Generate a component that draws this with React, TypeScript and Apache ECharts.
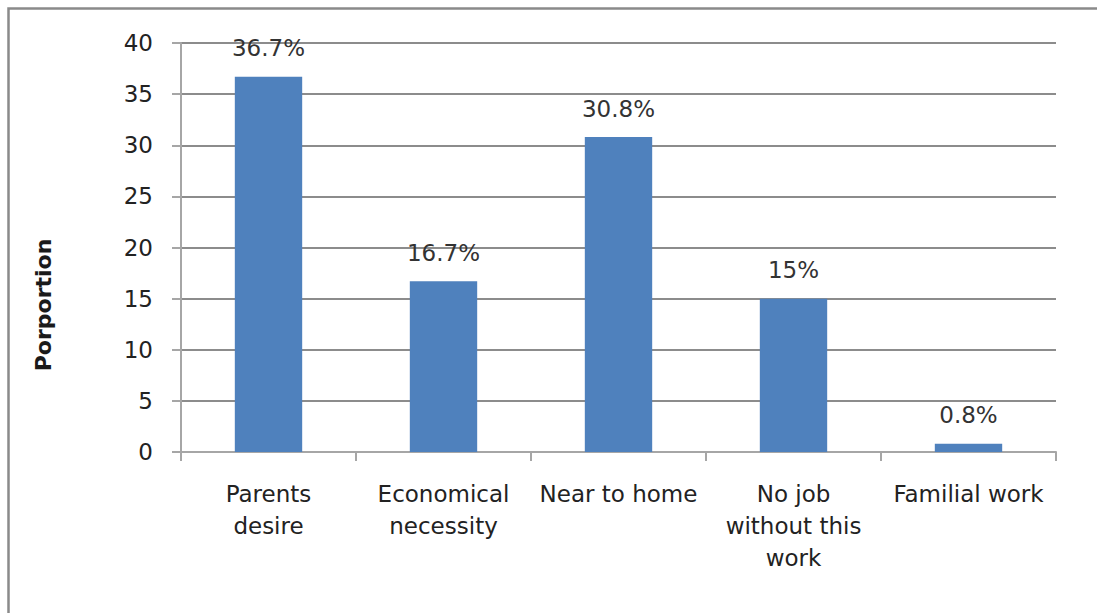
import React, { useEffect, useRef } from "react";
import * as echarts from "echarts";

const categories = [
  "Parents\ndesire",
  "Economical\nnecessity",
  "Near to home",
  "No job\nwithout this\nwork",
  "Familial work",
];
const values = [36.7, 16.7, 30.8, 15, 0.8];
const valueLabels = ["36.7%", "16.7%", "30.8%", "15%", "0.8%"];
const yTicks = [0, 5, 10, 15, 20, 25, 30, 35, 40];
const yAxisTitle = "Porportion";

const FONT = "'DejaVu Sans', 'Open Sans', sans-serif";

export default function App() {
  const ref = useRef<HTMLDivElement>(null);
  useEffect(() => {
    if (!ref.current) return;
    const chart = echarts.init(ref.current, undefined, { renderer: "svg" });
    chart.setOption({
      animation: false,
      backgroundColor: "#ffffff",
      textStyle: { fontFamily: FONT },
      graphic: [
        {
          type: "rect",
          shape: { x: 8.5, y: 8.5, width: 1200, height: 700 },
          style: { fill: "none", stroke: "#8a8a8a", lineWidth: 2.5 },
          silent: true,
        },
        {
          type: "text",
          x: 43,
          y: 305,
          rotation: Math.PI / 2,
          style: {
            text: yAxisTitle,
            fontSize: 22,
            fontWeight: "bold",
            fontFamily: FONT,
            fill: "#1a1a1a",
            align: "center",
            verticalAlign: "middle",
          },
          silent: true,
        },
      ],
      grid: { left: 181, right: 41, top: 43, bottom: 161, containLabel: false },
      xAxis: {
        type: "category",
        data: categories,
        axisLine: { lineStyle: { color: "#a6a6a6", width: 2 } },
        axisTick: { show: true, length: 9, lineStyle: { color: "#a6a6a6", width: 2 } },
        axisLabel: {
          interval: 0,
          margin: 26,
          fontSize: 23,
          lineHeight: 32,
          color: "#222222",
          fontFamily: FONT,
        },
      },
      yAxis: {
        type: "value",
        min: yTicks[0],
        max: yTicks[yTicks.length - 1],
        interval: 5,
        axisLine: { show: true, lineStyle: { color: "#a6a6a6", width: 2 } },
        axisTick: { show: true, length: 9, lineStyle: { color: "#a6a6a6", width: 2 } },
        axisLabel: { margin: 28, fontSize: 23, color: "#222222", fontFamily: FONT },
        splitLine: { show: true, lineStyle: { color: "#8c8c8c", width: 2 } },
      },
      series: [
        {
          type: "bar",
          data: values,
          barWidth: "38.5%",
          itemStyle: { color: "#4f81bd" },
          label: {
            show: true,
            position: "top",
            distance: 17,
            fontSize: 23,
            color: "#333333",
            fontFamily: FONT,
            formatter: (p: any) => valueLabels[p.dataIndex],
          },
        },
      ],
    });
    return () => chart.dispose();
  }, []);
  return (
    <div
      ref={ref}
      style={{ position: "absolute", left: 0, top: 0, width: 1097, height: 613 }}
    />
  );
}
